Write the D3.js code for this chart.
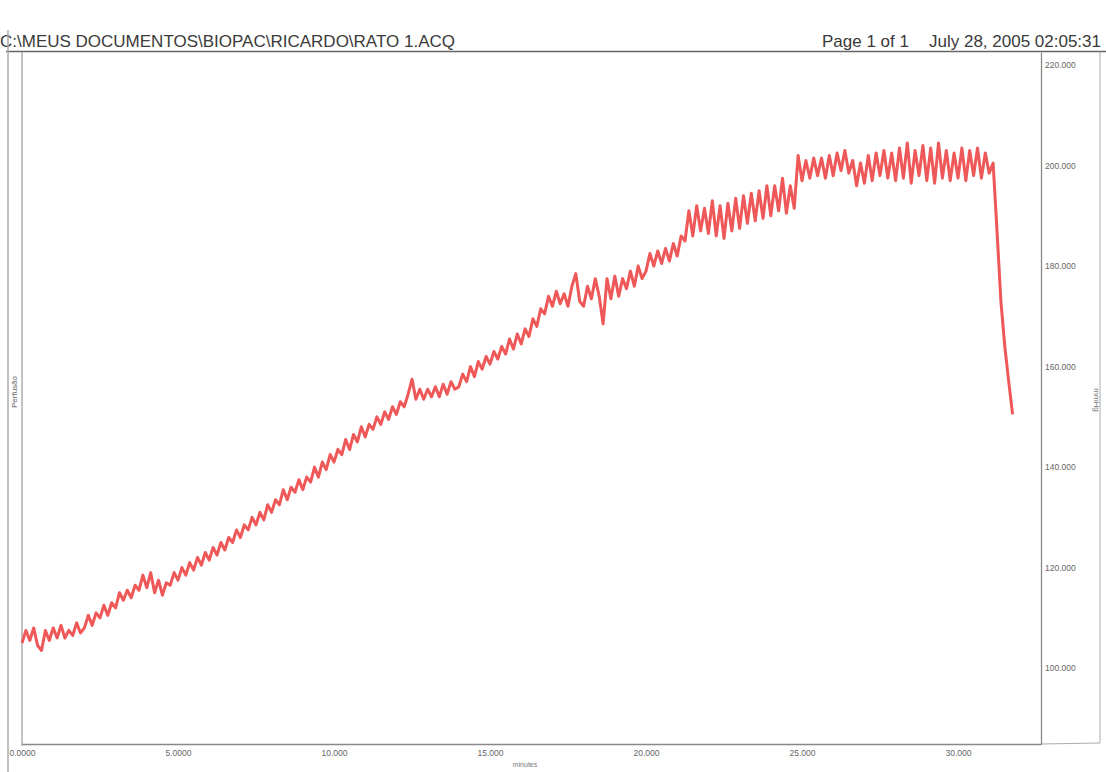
<!DOCTYPE html>
<html>
<head>
<meta charset="utf-8">
<script src="https://cdnjs.cloudflare.com/ajax/libs/d3/7.8.5/d3.min.js"></script>
<style>
    body { margin: 0; background: #fff; }
    .chart text { font-family: "Liberation Sans", Arial, sans-serif; }
</style>
</head>
<body>
<div class="chart"></div>
<script>
// pressure trace, one sample every 0.125 min (each row = 2 minutes)
const sampleStep = 0.125;
const pressure = [
    105, 107.5, 105.5, 108, 104.5, 103.5, 107.5, 105.5, 108, 106, 108.5, 106, 107.5, 106.5, 109, 107,
    108, 110.5, 108.5, 111, 110, 112.5, 110.5, 113, 112, 115, 113.5, 115.5, 114, 116.5, 115.5, 118.5,
    116, 119, 115, 117.5, 114.5, 117, 116.5, 119, 117.5, 120, 118.5, 121, 119.5, 122, 120.5, 123,
    121.5, 124, 122.5, 125, 123.5, 126, 125, 127.5, 126, 128.5, 127.5, 130, 128.5, 131, 129.5, 132.5,
    131, 133.5, 132.5, 135.5, 133.5, 136, 135, 137.5, 135.5, 138, 137, 140, 138, 141, 139.5, 142.5,
    141, 143.5, 142.5, 145.5, 143.5, 146.5, 145, 148, 146, 148.5, 147.5, 150, 148.5, 151, 149.5, 152,
    150.5, 153, 152, 154.5, 157.5, 153.5, 155.5, 153.5, 155.5, 154, 156, 154, 156.5, 154.5, 157, 155.5,
    156, 158.5, 157, 160, 158, 161, 159.5, 162, 160.5, 163, 161.5, 164, 162.5, 165.5, 163.5, 166.5,
    164.5, 167.5, 166, 169.5, 168, 171.5, 170.5, 174, 172, 175, 172.5, 174.5, 172, 176, 178.5, 173,
    172, 176, 173.5, 177.5, 174, 168.5, 177.5, 173.5, 178, 174, 177.5, 175.5, 179, 176, 180, 177.5,
    179, 182.5, 180, 183, 180.5, 183.5, 181, 184.5, 182, 186, 185, 191, 186, 192, 187, 191.5,
    186.5, 193, 186, 192, 185.5, 192.5, 187, 193.5, 187.5, 194, 188.5, 194.5, 189, 195, 189.5, 196,
    190, 196, 191, 197.5, 190.5, 196, 191.5, 202, 197, 201, 197.5, 201.5, 198, 201.5, 197.5, 202,
    198, 202.5, 199, 203, 198.5, 201, 196, 200.5, 196.5, 202, 197, 202.5, 198, 203, 197.5, 202.5,
    197, 203.5, 197.5, 204.5, 196.5, 203, 198, 204, 197, 203.5, 196.5, 204.5, 197.5, 203, 197, 202.5,
    197.5, 203.5, 197, 203, 198, 203.5, 197.5, 202.5, 198.5, 200.5, 187, 173, 164, 157, 150.5
];
const xTicks = [0, 5, 10, 15, 20, 25, 30];
const yTicks = [100, 120, 140, 160, 180, 200, 220];
const fileName = 'C:\\MEUS DOCUMENTOS\\BIOPAC\\RICARDO\\RATO 1.ACQ';
const pageText = 'Page 1 of 1';
const dateText = 'July 28, 2005 02:05:31';

const width = 1106, height = 772;
const plot = ({left: 22, right: 1041, top: 52, bottom: 744});

let svg = d3.select('.chart')
    .append('svg')
    .attr('width', width)
    .attr('height', height);

const xScale = d3.scaleLinear()
    .domain([0, 32.66])
    .range([plot.left, plot.right]);
const yScale = d3.scaleLinear()
    .domain([84.9, 222.6])
    .range([plot.bottom, plot.top]);

// header
svg.append('text')
    .text(fileName)
    .attr('x', 0)
    .attr('y', 47)
    .attr('font-size', 17)
    .attr('fill', '#3a3a3a');
svg.append('text')
    .text(pageText)
    .attr('x', 822)
    .attr('y', 47)
    .attr('font-size', 17)
    .attr('fill', '#3a3a3a');
svg.append('text')
    .text(dateText)
    .attr('x', 1101)
    .attr('y', 47)
    .attr('text-anchor', 'end')
    .attr('font-size', 17)
    .attr('fill', '#3a3a3a');

svg.append('line')
    .attr('x1', 6).attr('x2', width)
    .attr('y1', 51.5).attr('y2', 51.5)
    .attr('stroke', '#666').attr('stroke-width', 1.5);

// page edge + frame
svg.append('line')
    .attr('x1', 8).attr('x2', 8)
    .attr('y1', 30).attr('y2', height)
    .attr('stroke', '#aaa').attr('stroke-width', 1.5);
svg.append('line')
    .attr('x1', plot.left).attr('x2', plot.left)
    .attr('y1', plot.top).attr('y2', plot.bottom + 2)
    .attr('stroke', '#999').attr('stroke-width', 1.2);
svg.append('polyline')
    .attr('points', `${plot.right},${plot.bottom} 1100,${plot.bottom - 1} 1100,${plot.top}`)
    .attr('fill', 'none')
    .attr('stroke', '#aaa').attr('stroke-width', 1);

const xAxis = d3.axisBottom()
    .scale(xScale)
    .tickValues(xTicks)
    .tickSize(0)
    .tickPadding(6)
    .tickFormat(d3.format('.5r'));

const yAxis = d3.axisRight()
    .scale(yScale)
    .tickValues(yTicks)
    .tickSize(0)
    .tickPadding(4)
    .tickFormat(d3.format('.6r'));

svg.append('g')
    .attr('class', 'axis x-axis')
    .attr('transform', `translate(0, ${plot.bottom})`)
    .call(xAxis);

svg.append('g')
    .attr('class', 'axis y-axis')
    .attr('transform', `translate(${plot.right}, 0)`)
    .call(yAxis);

svg.selectAll('.axis path')
    .attr('stroke', '#888')
    .attr('stroke-width', 1.3);
svg.selectAll('.axis text')
    .attr('font-family', '"Liberation Sans", Arial, sans-serif')
    .attr('font-size', 8.5)
    .attr('fill', '#666');
svg.selectAll('.y-axis text')
    .attr('text-anchor', 'start');

svg.append('text')
    .text('minutes')
    .attr('x', 525)
    .attr('y', 767)
    .attr('text-anchor', 'middle')
    .attr('font-size', 7)
    .attr('fill', '#777');

svg.append('text')
    .text('mmHg')
    .attr('transform', 'translate(1094, 400) rotate(90)')
    .attr('text-anchor', 'middle')
    .attr('font-size', 8)
    .attr('fill', '#777');

svg.append('text')
    .text('Perfusão')
    .attr('transform', 'translate(17, 392) rotate(-90)')
    .attr('text-anchor', 'middle')
    .attr('font-size', 8)
    .attr('fill', '#666');

// trace
const line = d3.line()
    .x((d, i) => xScale(i * sampleStep))
    .y(d => yScale(d));

svg.append('path')
    .datum(pressure)
    .attr('d', line)
    .attr('fill', 'none')
    .attr('stroke', '#ef5858')
    .attr('stroke-width', 3)
    .attr('stroke-linejoin', 'round');
</script>
</body>
</html>
